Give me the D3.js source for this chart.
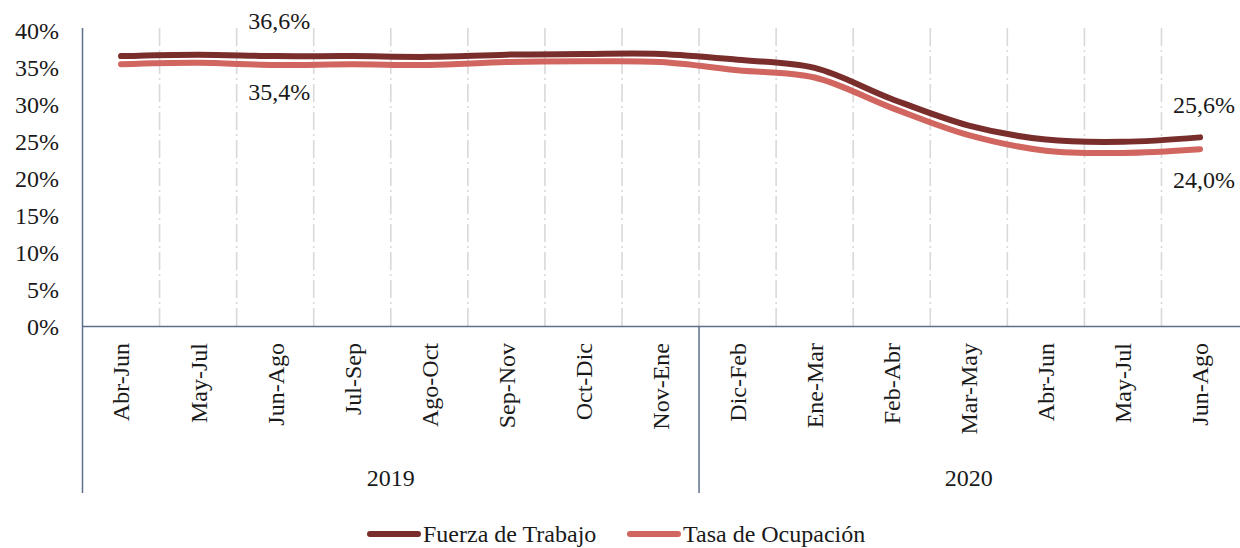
<!DOCTYPE html>
<html>
<head>
<meta charset="utf-8">
<script src="https://cdn.jsdelivr.net/npm/d3@7"></script>
<style>
  body { margin: 0; background: #fff; }
</style>
</head>
<body>
<svg id="chart"></svg>
<script>
const W = 1240, H = 548;
const MARGIN = { top: 31, right: 2, bottom: 221, left: 82.5 };
const FONT_SIZE = 24;
const FONT = "'Liberation Serif'";

// data
const periods = ["Abr-Jun","May-Jul","Jun-Ago","Jul-Sep","Ago-Oct","Sep-Nov","Oct-Dic","Nov-Ene",
                 "Dic-Feb","Ene-Mar","Feb-Abr","Mar-May","Abr-Jun","May-Jul","Jun-Ago"];
const years = ["2019","2020"];
const yearOf = [0,0,0,0,0,0,0,0,1,1,1,1,1,1,1];
const fuerzaTrabajo = [36.6,36.8,36.6,36.6,36.5,36.8,36.9,36.9,36.1,35.0,30.8,27.2,25.3,25.0,25.6];
const tasaOcupacion = [35.5,35.7,35.4,35.5,35.4,35.8,35.9,35.8,34.7,33.7,29.6,25.9,23.8,23.5,24.0];
const yTicks = [0,5,10,15,20,25,30,35,40];
const seriesNames = ["Fuerza de Trabajo","Tasa de Ocupación"];
const palette = ["#7a2e2c","#d1655f"];
// labelled points: [series, index, text, dy]
const pointLabels = [
  [0, 2, "36,6%", -36],
  [1, 2, "35,4%", 27],
  [0, 14, "25,6%", -33],
  [1, 14, "24,0%", 30]
];

const height = H - MARGIN.top - MARGIN.bottom;

const svg = d3.select('#chart').attr('width', W).attr('height', H);

function label(sel) {
  return sel.style('font-family', FONT)
    .style('font-size', FONT_SIZE + 'px')
    .style('fill', '#1a1a1a');
}

const keys = periods.map((p, i) => i);
const x = d3.scaleBand().domain(keys).range([MARGIN.left, MARGIN.left + 15 * 77.07]);
const y = d3.scaleLinear().domain([0, 40]).range([MARGIN.top + height - 0.5, MARGIN.top]);
const y0 = y(0);

// vertical grid lines at band boundaries
svg.append('g').selectAll('line')
  .data(keys.slice(1))
  .join('line')
  .attr('x1', d => x(d)).attr('x2', d => x(d))
  .attr('y1', 28).attr('y2', y0)
  .attr('stroke', '#d9d9d9')
  .attr('stroke-width', 1.6)
  .attr('stroke-dasharray', '18,4,2,4');

// y axis ticks
svg.append('g').selectAll('text')
  .data(yTicks)
  .join('text')
  .attr('x', 59)
  .attr('y', d => y(d))
  .attr('dy', '0.35em')
  .attr('text-anchor', 'end')
  .call(label)
  .text(d => d + '%');

// axis lines
const axisColor = '#5d6f8c';
svg.append('line')
  .attr('x1', MARGIN.left).attr('x2', W)
  .attr('y1', y0).attr('y2', y0)
  .attr('stroke', axisColor).attr('stroke-width', 1.5);
svg.append('line')
  .attr('x1', MARGIN.left).attr('x2', MARGIN.left)
  .attr('y1', 28).attr('y2', 493)
  .attr('stroke', axisColor).attr('stroke-width', 1.5);
// year separator
const sepX = x(8);
svg.append('line')
  .attr('x1', sepX).attr('x2', sepX)
  .attr('y1', y0).attr('y2', 493)
  .attr('stroke', axisColor).attr('stroke-width', 1.5);

// category labels (rotated)
svg.append('g').selectAll('text')
  .data(keys)
  .join('text')
  .attr('transform', d => `translate(${x(d) + x.bandwidth() / 2},343) rotate(-90)`)
  .attr('dy', '0.35em')
  .attr('text-anchor', 'end')
  .call(label)
  .text(d => periods[d]);

// year labels
years.forEach((yr, j) => {
  const idx = keys.filter(k => yearOf[k] === j);
  const cx = (x(idx[0]) + x(idx[idx.length - 1]) + x.bandwidth()) / 2;
  svg.append('text')
    .attr('x', cx).attr('y', 478)
    .attr('dy', '0.35em')
    .attr('text-anchor', 'middle')
    .call(label)
    .text(yr);
});

// lines
const line = d3.line()
  .x((d, i) => x(i) + x.bandwidth() / 2)
  .y(d => y(d))
  .curve(d3.curveCatmullRom.alpha(0.5));

[fuerzaTrabajo, tasaOcupacion].forEach((s, i) => {
  svg.append('path')
    .datum(s)
    .attr('d', line)
    .attr('fill', 'none')
    .attr('stroke', palette[i])
    .attr('stroke-width', 6)
    .attr('stroke-linecap', 'round');
});

// data labels
const allSeries = [fuerzaTrabajo, tasaOcupacion];
svg.append('g').selectAll('text')
  .data(pointLabels)
  .join('text')
  .attr('x', d => x(d[1]) + x.bandwidth() / 2 + 4)
  .attr('y', d => y(allSeries[d[0]][d[1]]) + d[3])
  .attr('dy', '0.35em')
  .attr('text-anchor', 'middle')
  .call(label)
  .text(d => d[2]);

// legend
const legendX = [370, 630];
seriesNames.forEach((name, i) => {
  const g = svg.append('g').attr('transform', `translate(${legendX[i]},534)`);
  g.append('line')
    .attr('x1', 0).attr('x2', 48)
    .attr('stroke', palette[i])
    .attr('stroke-width', 6)
    .attr('stroke-linecap', 'round');
  g.append('text')
    .attr('x', 53)
    .attr('dy', '0.35em')
    .call(label)
    .text(name);
});
</script>
</body>
</html>
